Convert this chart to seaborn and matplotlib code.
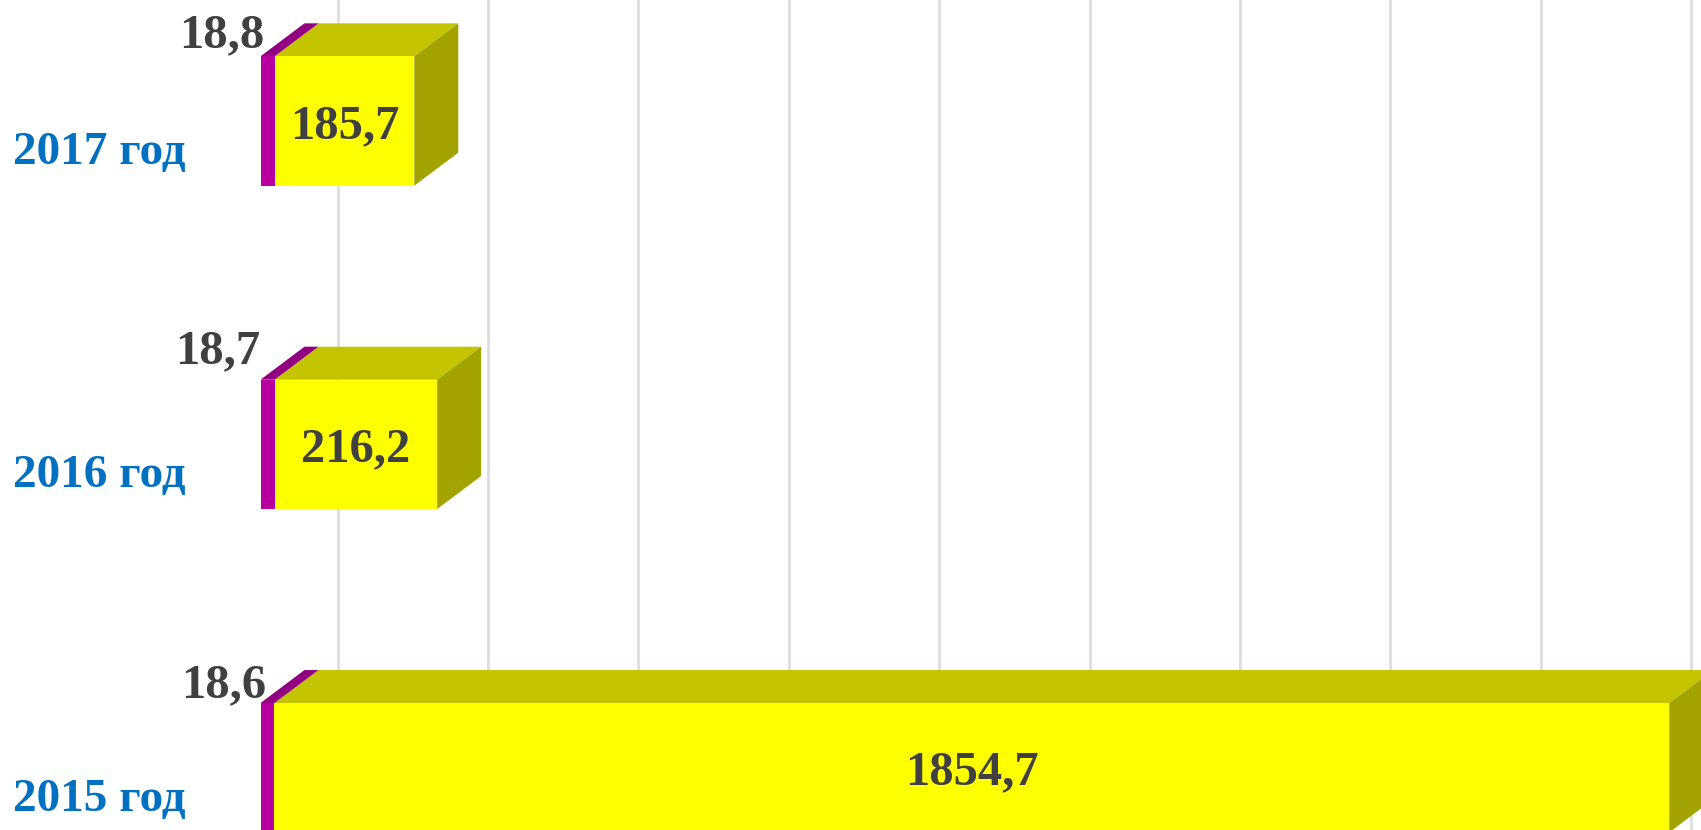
import matplotlib
matplotlib.use('Agg')
import matplotlib.pyplot as plt
from matplotlib.patches import Polygon
from matplotlib.transforms import ScaledTranslation
import seaborn as sns

YEARS = ['2017 год', '2016 год', '2015 год']
SMALL_VALUES = [18.8, 18.7, 18.6]
MAIN_VALUES = [185.7, 216.2, 1854.7]
GRID_TICKS = [102.5, 302.5, 502.5, 702.5, 902.5, 1102.5, 1302.5, 1502.5, 1702.5, 1902.5]

WIDTH, HEIGHT = 1701, 830
AXIS_LEFT = 260.5
PX_PER_UNIT = 0.752
DEPTH_PX = (44, 33)
BAR_SPACING_PX = 323.35
FIRST_BAR_PX = 121

# small label nudges in pixels, they are not evenly placed in the source
SMALL_OFFSETS = [(4, 21), (0, 28), (6, 18)]
MAIN_LABEL_DROP = 5

MAGENTA = ['#B800A0', '#900080']
YELLOW = ['#FFFF00', '#C4C400', '#A3A300']
TEXT_COLOR = '#404040'
YEAR_COLOR = '#0070C0'
GRID_COLOR = '#DCDCDC'

sns.set_theme(style='white')
plt.rcParams['font.family'] = ['Liberation Serif', 'DejaVu Serif']


def add_depth(ax, bar, top_color, side_color=None):
    dx = DEPTH_PX[0] / PX_PER_UNIT
    dy = DEPTH_PX[1] / BAR_SPACING_PX
    x0, y0 = bar.get_x(), bar.get_y()
    x1 = x0 + bar.get_width()
    y1 = y0 + bar.get_height()
    ax.add_patch(Polygon([(x0, y0), (x1, y0), (x1 + dx, y0 - dy), (x0 + dx, y0 - dy)],
                         facecolor=top_color, linewidth=0, zorder=3))
    if side_color:
        ax.add_patch(Polygon([(x1, y0), (x1 + dx, y0 - dy), (x1 + dx, y1 - dy), (x1, y1)],
                             facecolor=side_color, linewidth=0, zorder=3))


def main():
    fig = plt.figure(figsize=(WIDTH / 100, HEIGHT / 100), dpi=100)
    ax = fig.add_axes([AXIS_LEFT / WIDTH, 0, 1 - AXIS_LEFT / WIDTH, 1])

    sns.barplot(x=SMALL_VALUES, y=YEARS, order=YEARS, orient='h', color=MAGENTA[0],
                saturation=1, width=0.4, linewidth=0, zorder=4, ax=ax)
    small_bars = list(ax.patches)
    sns.barplot(x=MAIN_VALUES, y=YEARS, order=YEARS, orient='h', color=YELLOW[0],
                saturation=1, width=0.4, linewidth=0, zorder=4, left=SMALL_VALUES, ax=ax)
    main_bars = list(ax.patches)[len(small_bars):]

    for bar in main_bars:
        add_depth(ax, bar, YELLOW[1], YELLOW[2])
    for bar in small_bars:
        add_depth(ax, bar, MAGENTA[1])

    ax.set_xlim(0, (WIDTH - AXIS_LEFT) / PX_PER_UNIT)
    ax.set_ylim((HEIGHT - FIRST_BAR_PX) / BAR_SPACING_PX, -FIRST_BAR_PX / BAR_SPACING_PX)
    ax.set_xticks(GRID_TICKS)
    ax.set_xticklabels([])
    ax.set_xlabel('')
    ax.set_ylabel('')
    ax.grid(axis='x', color=GRID_COLOR, linewidth=1.9)
    ax.grid(axis='y', visible=False)
    ax.set_axisbelow(True)
    ax.tick_params(axis='x', length=0)
    ax.tick_params(axis='y', length=0, pad=54, labelsize=34, labelcolor=YEAR_COLOR)
    sns.despine(ax=ax, left=True, bottom=True)

    # year labels sit lower than the bar centre
    shift = ScaledTranslation(0, -27 / 100, fig.dpi_scale_trans)
    for label in ax.get_yticklabels():
        label.set_fontweight('bold')
        label.set_transform(label.get_transform() + shift)

    for bar, value in zip(main_bars, MAIN_VALUES):
        ax.annotate(f'{value:.1f}'.replace('.', ','),
                    xy=(bar.get_x() + bar.get_width() / 2, bar.get_y() + bar.get_height() / 2),
                    xytext=(0, -MAIN_LABEL_DROP), textcoords='offset pixels', ha='center',
                    va='center', fontsize=35, fontweight='bold', color=TEXT_COLOR, zorder=6)

    for bar, value, offset in zip(small_bars, SMALL_VALUES, SMALL_OFFSETS):
        ax.annotate(f'{value:.1f}'.replace('.', ','), xy=(bar.get_x(), bar.get_y()),
                    xytext=offset, textcoords='offset pixels', ha='right', va='center',
                    fontsize=35, fontweight='bold', color=TEXT_COLOR, annotation_clip=False,
                    zorder=6)

    fig.savefig('out.png', dpi=100)


if __name__ == '__main__':
    main()
